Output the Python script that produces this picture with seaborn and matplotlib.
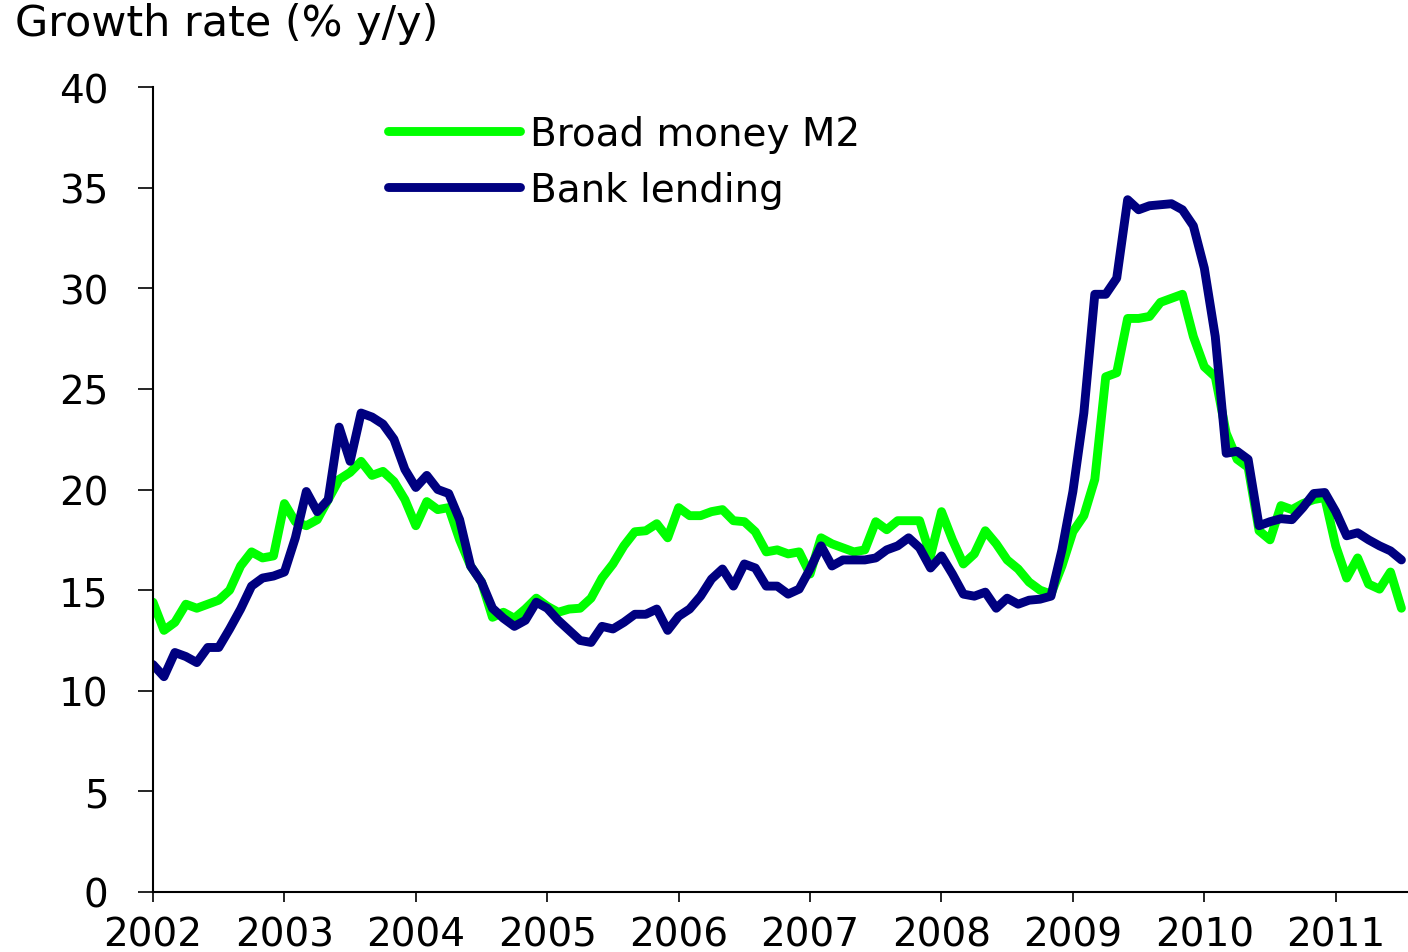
import numpy as np
import pandas as pd
import matplotlib
matplotlib.use("Agg")
import matplotlib.pyplot as plt
import seaborn as sns

# ---- data (monthly, Jan 2002 - Jul 2011), growth rate % y/y ----
start_year = 2002
n_months = 115

broad_money_m2 = [
    14.4, 13.0, 13.4, 14.3, 14.1, 14.3, 14.5, 15.0, 16.2, 16.9, 16.6, 16.7,
    19.3, 18.4, 18.2, 18.5, 19.5, 20.5, 20.85, 21.4, 20.7, 20.9, 20.4, 19.5,
    18.2, 19.4, 19.0, 19.1, 17.5, 16.2, 15.4, 13.65, 13.9, 13.6, 14.06, 14.6,
    14.2, 13.9, 14.06, 14.1, 14.6, 15.6, 16.3, 17.2, 17.9, 17.95, 18.3, 17.6,
    19.1, 18.7, 18.7, 18.9, 19.0, 18.45, 18.4, 17.9, 16.9, 17.0, 16.8, 16.9,
    15.8, 17.6, 17.3, 17.1, 16.9, 17.0, 18.4, 18.0, 18.45, 18.45, 18.45, 16.7,
    18.9, 17.5, 16.3, 16.8, 17.95, 17.3, 16.5, 16.05, 15.4, 15.0, 14.8, 16.2,
    17.9, 18.7, 20.5, 25.6, 25.8, 28.5, 28.5, 28.6, 29.3, 29.5, 29.7, 27.6,
    26.1, 25.6, 22.8, 21.5, 21.1, 17.95, 17.5, 19.2, 19.0, 19.3, 19.5, 19.6,
    17.2, 15.6, 16.6, 15.3, 15.05, 15.9, 14.1,
]

bank_lending = [
    11.3, 10.7, 11.9, 11.7, 11.4, 12.15, 12.15, 13.07, 14.06, 15.2, 15.6, 15.7,
    15.9, 17.6, 19.9, 18.9, 19.5, 23.1, 21.4, 23.8, 23.6, 23.25, 22.5, 21.0,
    20.1, 20.7, 20.0, 19.8, 18.5, 16.2, 15.4, 14.1, 13.6, 13.2, 13.5, 14.4,
    14.1, 13.5, 13.0, 12.5, 12.4, 13.2, 13.07, 13.4, 13.8, 13.8, 14.06, 13.0,
    13.7, 14.06, 14.7, 15.55, 16.05, 15.2, 16.3, 16.1, 15.2, 15.2, 14.8, 15.05,
    16.05, 17.2, 16.2, 16.5, 16.5, 16.5, 16.6, 17.0, 17.2, 17.6, 17.1, 16.1,
    16.7, 15.8, 14.8, 14.7, 14.9, 14.1, 14.6, 14.3, 14.5, 14.55, 14.7, 17.0,
    19.9, 23.8, 29.7, 29.7, 30.5, 34.4, 33.9, 34.1, 34.15, 34.2, 33.9, 33.1,
    31.0, 27.6, 21.8, 21.9, 21.5, 18.2, 18.4, 18.55, 18.5, 19.1, 19.8, 19.85,
    18.9, 17.7, 17.85, 17.5, 17.2, 16.95, 16.5,
]

series_names = ["Broad money M2", "Bank lending"]
series_colors = ["#00FF00", "#000080"]
year_ticks = list(range(2002, 2012))
y_ticks = list(range(0, 45, 5))
y_title = "Growth rate (% y/y)"

# ---- build long-form table ----
time = start_year + np.arange(n_months) / 12.0
df = pd.concat([
    pd.DataFrame({"time": time, "value": broad_money_m2, "series": series_names[0]}),
    pd.DataFrame({"time": time, "value": bank_lending, "series": series_names[1]}),
], ignore_index=True)

sns.set_style("ticks")
plt.rcParams["font.family"] = ["DejaVu Sans"]
plt.rcParams["text.color"] = "black"
plt.rcParams["axes.labelcolor"] = "black"
plt.rcParams["xtick.color"] = "black"
plt.rcParams["ytick.color"] = "black"

W, H = 1408, 953
fig = plt.figure(figsize=(W / 100, H / 100), dpi=100)
ax = fig.add_axes([153 / W, 60 / H, 1255 / W, 805 / H])

sns.lineplot(
    data=df, x="time", y="value", hue="series",
    hue_order=series_names, palette=series_colors,
    linewidth=6.4, ax=ax, legend=True,
)
for ln in ax.get_lines():
    ln.set_solid_capstyle("round")
    ln.set_solid_joinstyle("round")

ax.set_xlim(2002, 2011.55)
ax.set_ylim(0, 40)
ax.set_xticks(year_ticks)
ax.set_xticklabels([str(y) for y in year_ticks])
ax.set_yticks(y_ticks)
ax.set_yticklabels([str(v) for v in y_ticks])
ax.set_xlabel("")
ax.set_ylabel("")

for side in ["top", "right"]:
    ax.spines[side].set_visible(False)
for side in ["left", "bottom"]:
    ax.spines[side].set_linewidth(1.5)
    ax.spines[side].set_color("black")

ax.tick_params(axis="y", direction="out", length=11, width=1.2, pad=21,
               labelsize=28, colors="black")
ax.tick_params(axis="x", direction="out", length=7, width=1.2, pad=10,
               labelsize=28, colors="black")

leg = ax.legend(
    loc="upper left", bbox_to_anchor=(388 / W, 1 - 116 / H),
    bbox_transform=fig.transFigure, frameon=False, fontsize=28,
    handlelength=3.4, handletextpad=0.25, labelspacing=0.45,
    borderpad=0, borderaxespad=0,
)
for h in leg.get_lines():
    h.set_solid_capstyle("round")
    h.set_linewidth(6.4)
for t in leg.get_texts():
    t.set_color("black")

fig.text(15 / W, 1 - 3 / H, y_title, ha="left", va="top", fontsize=31,
         color="black")

fig.savefig("out.png", dpi=100)
